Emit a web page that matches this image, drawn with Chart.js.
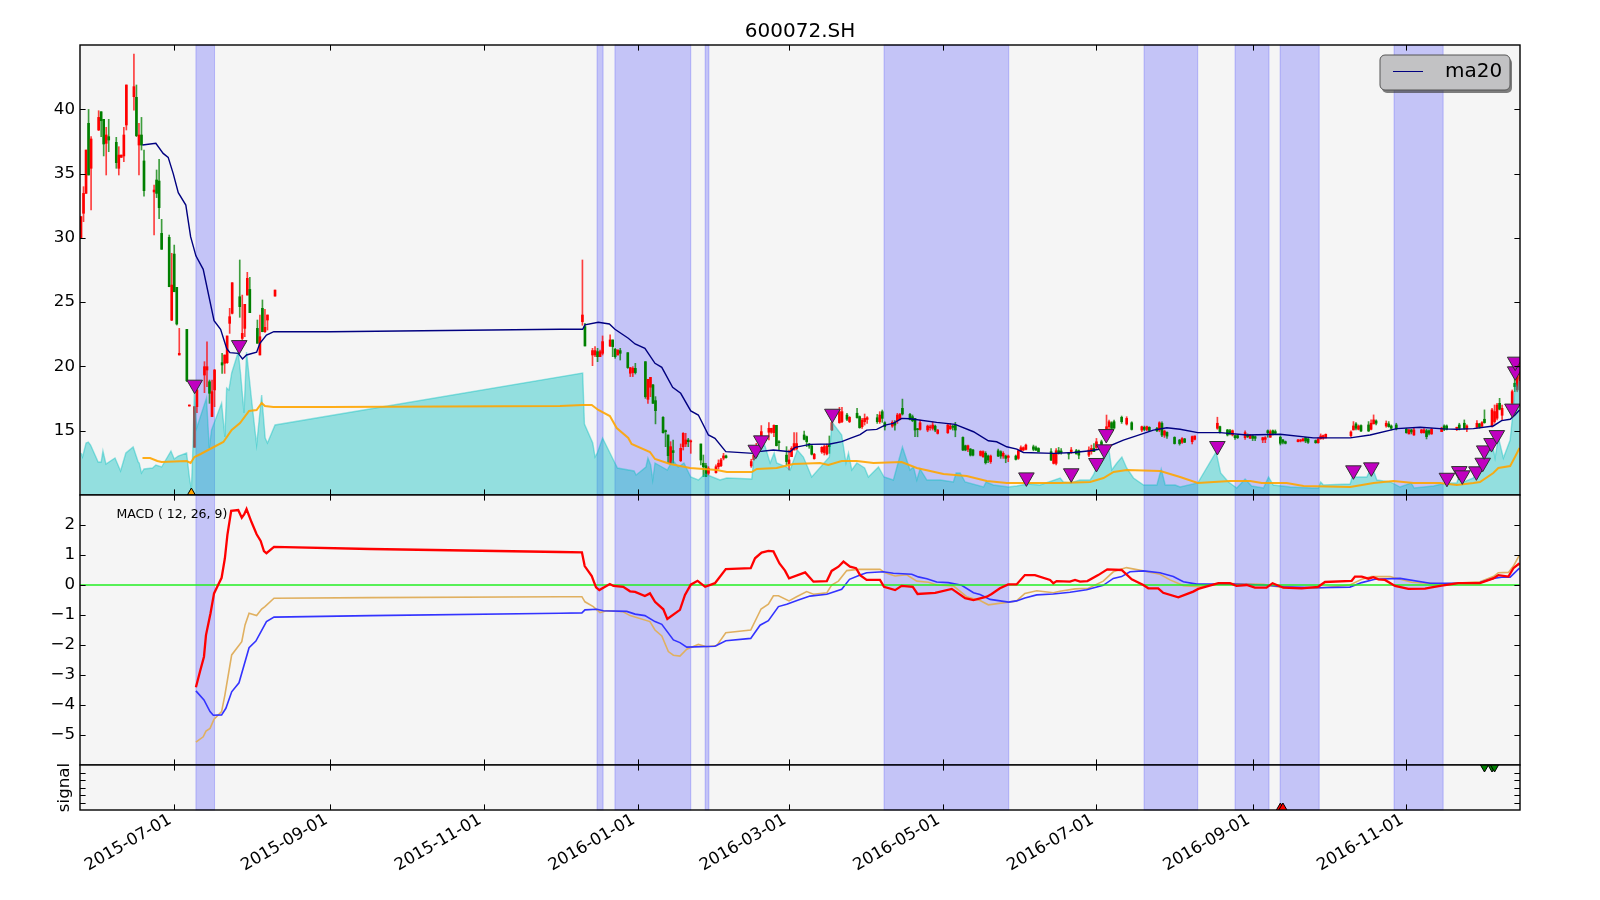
<!DOCTYPE html>
<html>
<head>
<meta charset="utf-8">
<title>600072.SH</title>
<script src="https://cdn.jsdelivr.net/npm/chart.js@4/dist/chart.umd.min.js"></script>
<style>
    body { margin: 0; background: #fff; }
    canvas { position: absolute; left: 0; top: 0; }
</style>
</head>
<body>
<canvas id="priceChart" width="1600" height="900"></canvas>
<canvas id="macdChart" width="1600" height="900"></canvas>
<canvas id="signalChart" width="1600" height="900"></canvas>
<script>
// all x values are days counted from 2015-07-01
var tickDays = [0, 62, 123, 184, 244, 305, 366, 428, 489];
var tickLabels = ['2015-07-01', '2015-09-01', '2015-11-01', '2016-01-01', '2016-03-01', '2016-05-01', '2016-07-01', '2016-09-01', '2016-11-01'];
var xMin = -37.4;
var xMax = 534.1;

// ── Candles ───────────────────────────────────────────────────────────────
var candleDays = [
    -37, -36, -35, -34, -33, -30, -29, -28, -27, -26,
    -23, -22, -21, -20, -19, -16, -15, -14, -13, -12,
    -8, -7, -6, -5, -2, -1, 0, 1, 2, 5,
    6, 8, 9, 12, 13, 14, 15, 16, 19, 20,
    21, 22, 23, 26, 27, 28, 29, 30, 33, 34,
    35, 36, 37, 40,
    162, 163, 166, 167, 168, 169, 170, 173, 174, 175,
    176, 177, 180, 181, 182, 183, 187, 188, 189, 190,
    191, 194, 195, 196, 197, 198, 201, 202, 203, 204,
    205, 209, 210, 211, 212, 215, 216, 217, 218, 219,
    229, 230, 231, 233, 236, 237, 238, 239, 240, 243,
    244, 245, 246, 247, 250, 251, 252, 253, 254, 257,
    258, 259, 260, 261, 264, 265, 267, 268, 271, 272,
    273, 274, 275, 279, 280, 281, 282, 285, 286, 287,
    288, 289, 292, 293, 294, 295, 296, 299, 300, 301,
    302, 303, 307, 308, 309, 310, 313, 314, 315, 316,
    317, 320, 321, 322, 323, 324, 327, 328, 329, 330,
    331, 334, 335, 336, 337, 338, 341, 342, 343, 348,
    349, 350, 351, 352, 355, 356, 358, 359, 363, 364,
    365, 366, 368, 370, 371, 372, 373, 376, 378, 380,
    384, 385, 386, 387, 390, 391, 392, 393, 394, 397,
    399, 400, 401, 404, 405, 414, 415, 418, 419, 420,
    421, 422, 425, 426, 427, 428, 429, 432, 433, 434,
    435, 436, 437, 439, 440, 441, 446, 447, 448, 449,
    450, 453, 454, 455, 456, 457, 467, 468, 469, 470,
    471, 474, 475, 476, 477, 481, 482, 483, 485, 489,
    490, 491, 492, 495, 496, 497, 498, 499, 503, 504,
    505, 509, 510, 512, 513, 517, 518, 519, 520, 523,
    524, 525, 526, 527, 531, 532, 533, 534
];
var candleOpen = [
    29.96, 31.91, 33.46, 38.91, 35.41, 38.39, 39.81, 39.22, 37.35, 37.87,
    37.43, 35.41, 36.26, 36.37, 38.78, 40.98, 40.93, 37.22, 38, 35.98,
    33.57, 34.5, 34.42, 30.35, 30.04, 23.6, 28.74, 26.15, 20.89, 22.88,
    16.92, 13.71, 16.87, 19.33, 19.72, 18.81, 16.1, 18.17, 20.29, 20.24,
    20.29, 23.35, 24.13, 25.42, 22.18, 22.96, 25.55, 25.99, 22.96, 20.89,
    24.52, 22.7, 23.61, 25.47,
    23.48, 23.1, 20.89, 20.89, 21.15, 20.76, 21.02, 21.59, 22.06, 21.33,
    20.89, 21.23, 21.07, 19.47, 19.52, 19.85, 20.37, 17.44, 18.38, 18.56,
    17.34, 16.04, 15.01, 14.67, 12.47, 13.45, 12.67, 13.76, 13.97, 14.28,
    14.13, 13.97, 12.47, 12.28, 11.69, 11.74, 12.2, 12.28, 12.86, 13.04,
    12.26, 12.73, 12.98, 14.41, 14.88, 14.88, 14.85, 15.42, 14.15, 13.1,
    12.34, 12.98, 13.5, 13.6, 14.67, 14.54, 13.97, 13.81, 12.83, 13.35,
    13.3, 13.19, 13.89, 15.06, 15.63, 15.71, 16.22, 15.71, 16.36, 16.1,
    15.31, 15.7, 15.88, 16.01, 15.7, 16.48, 15.62, 15.36, 15.62, 15.78,
    15.88, 16.74, 16.27, 16.09, 15.96, 15.1, 15.1, 15.05, 15.23, 15.18,
    15.36, 14.79, 14.84, 15.15, 15.36, 15.44, 14.48, 13.83, 13.55, 13.57,
    13.5, 13.08, 12.98, 13.24, 13.03, 12.59, 13.44, 13.37, 13.03, 13.03,
    12.92, 13.03, 12.85, 13.42, 13.5, 13.55, 13.75, 13.68, 13.62, 13.37,
    12.46, 12.46, 13.44, 13.42, 13.24, 13.29, 13.44, 13.44, 13.1, 13.37,
    13.62, 13.7, 14.14, 14.84, 15.31, 15.62, 15.7, 16.04, 15.52, 15.62,
    15.05, 15.26, 15.1, 15.26, 15.18, 15.05, 15.57, 14.66, 14.87, 14.48,
    14.27, 14.1, 14.36, 14.15, 14.33, 15.19, 15.32, 15.06, 15, 14.67,
    14.62, 14.62, 14.46, 14.67, 14.41, 14.59, 14.54, 14.28, 14.33, 15,
    14.49, 15, 14.93, 14.49, 14.28, 14.15, 14.15, 14.2, 14.2, 14.46,
    14.36, 14.23, 14.07, 14.38, 14.42, 14.44, 14.62, 15.06, 15.53, 15.11,
    15.4, 15.45, 15.11, 15.53, 15.76, 15.37, 15.53, 15.37, 15.45, 15.11,
    14.75, 15.06, 14.67, 14.85, 14.85, 15, 15, 14.75, 14.93, 15.37,
    15.37, 15.19, 15.45, 15.58, 15.13, 15.27, 15.53, 15.35, 15.89, 15.37,
    15.71, 15.97, 17.13, 16.2, 17.13, 18.69, 18.17, 19
];
var candleHigh = [
    31.65, 33.98, 36.83, 39.99, 37.87, 39.89, 39.81, 39.22, 38.6, 39.22,
    37.82, 37.09, 36.44, 38.6, 41.89, 44.3, 41.89, 38.91, 39.37, 36.83,
    34.11, 35.28, 36.11, 31.44, 30.22, 28.8, 29.44, 26.15, 22.96, 22.88,
    17, 16.87, 18.42, 20.37, 21.92, 18.94, 18.94, 19.77, 21.02, 20.89,
    22.37, 24.52, 26.51, 28.28, 25.55, 24.83, 27.32, 26.93, 23.61, 24,
    25.17, 24.44, 24, 25.94,
    28.28, 23.36, 21.41, 21.54, 21.41, 21.28, 22.37, 22.45, 22.06, 21.41,
    21.28, 21.41, 21.07, 19.91, 19.98, 20.24, 20.37, 19, 19.15, 18.61,
    17.65, 16.1, 15.06, 14.67, 14.15, 14.28, 13.97, 14.85, 14.8, 14.41,
    14.28, 13.97, 13.11, 12.47, 12.2, 12.34, 12.73, 12.86, 13.24, 13.11,
    12.78, 13.19, 14.02, 15.4, 15.63, 15.19, 15.45, 15.42, 14.23, 13.76,
    13.5, 13.76, 14.85, 14.85, 14.98, 14.59, 14.02, 13.89, 13.24, 13.76,
    13.89, 13.97, 14.59, 15.71, 16.82, 16.82, 16.36, 16.1, 16.74, 16.15,
    15.96, 16.3, 16.09, 16.27, 16.48, 16.61, 15.7, 15.78, 15.78, 16.35,
    16.35, 17.46, 16.35, 16.22, 15.96, 15.18, 15.83, 15.44, 15.44, 15.7,
    15.44, 15.1, 15.49, 15.57, 15.44, 15.65, 14.53, 13.88, 13.88, 13.62,
    13.55, 13.44, 13.44, 13.37, 13.11, 13.11, 13.57, 13.44, 13.37, 13.11,
    13.11, 13.11, 13.5, 13.83, 13.75, 13.96, 13.88, 13.81, 13.68, 13.62,
    13.24, 13.62, 13.7, 13.62, 13.32, 13.7, 13.55, 13.5, 13.75, 13.88,
    14, 14.4, 14.27, 16.22, 15.83, 15.7, 15.83, 16.14, 16.09, 15.7,
    15.36, 15.36, 15.36, 15.31, 15.26, 15.7, 15.7, 15.05, 14.92, 14.53,
    14.33, 14.46, 14.41, 14.59, 14.59, 16.05, 15.37, 15.11, 15.11, 15.06,
    14.67, 14.67, 15, 14.75, 14.72, 14.67, 14.59, 14.49, 14.54, 15.06,
    15.06, 15.06, 15.06, 14.59, 14.33, 14.2, 14.33, 14.33, 14.41, 14.49,
    14.41, 14.28, 14.46, 14.75, 14.67, 14.75, 15, 15.71, 15.63, 15.45,
    15.45, 15.71, 15.84, 16.23, 15.84, 15.76, 15.71, 15.45, 15.58, 15.19,
    15.11, 15.11, 15.19, 15.11, 15.16, 15.11, 15.06, 15.19, 15.27, 15.45,
    15.45, 15.27, 15.58, 15.84, 15.45, 15.79, 15.58, 15.71, 16.62, 16.74,
    17, 17.13, 17.52, 17, 18.17, 19.6, 19.34, 20.3
];
var candleLow = [
    29.96, 31.26, 33.46, 34.89, 32.17, 38.34, 37.87, 36.37, 34.89, 36.7,
    35.41, 34.89, 36.26, 35.93, 38.39, 39.94, 37.87, 34.89, 36.83, 33.25,
    30.22, 33.13, 31.49, 29.11, 26.2, 23.56, 25.81, 23.22, 20.89, 18.81,
    16.92, 13.71, 16.4, 17.96, 18.42, 17.13, 16.1, 16.87, 19.46, 19.46,
    20.24, 22.57, 24.08, 23.82, 22.05, 22.31, 25.55, 24.18, 21.8, 20.89,
    22.7, 22.65, 22.83, 25.47,
    23.2, 21.59, 20.06, 20.76, 20.37, 20.76, 20.89, 21.54, 20.76, 20.63,
    20.89, 20.5, 19.85, 19.21, 19.21, 19.41, 17.52, 17.13, 17.65, 17.13,
    15.53, 14.8, 13.76, 12.47, 12.47, 12.47, 12.6, 13.5, 13.76, 13.76,
    13.24, 12.34, 11.43, 11.43, 11.56, 11.69, 12.02, 12.21, 12.73, 12.86,
    12.15, 12.73, 12.98, 14.02, 14.28, 14.8, 14.54, 13.81, 13.5, 12.34,
    11.95, 12.98, 13.5, 13.5, 14.28, 13.76, 13.63, 13.11, 12.78, 13.24,
    13.11, 13.11, 13.24, 15, 15.58, 15.63, 15.78, 15.63, 15.97, 15.19,
    15.18, 15.44, 15.57, 15.57, 15.57, 15.65, 15.05, 15.26, 15.05, 15.57,
    15.83, 16.22, 15.83, 15.7, 14.53, 14.53, 15.05, 14.92, 15.05, 15.05,
    14.92, 14.74, 14.79, 15.1, 15.05, 14.53, 13.44, 13.44, 13.37, 13.03,
    13.03, 13.03, 12.92, 12.41, 12.51, 12.46, 12.98, 12.85, 12.85, 12.51,
    12.59, 12.72, 12.77, 13.37, 13.44, 13.5, 13.44, 13.44, 13.37, 12.67,
    12.41, 12.33, 13.18, 13.18, 12.8, 13.24, 13.18, 12.82, 12.98, 13.18,
    13.37, 13.62, 13.62, 14.79, 14.79, 15.18, 15.18, 15.57, 15.44, 15.05,
    14.92, 15, 15, 15, 14.92, 14.92, 14.53, 14.48, 14.4, 13.96,
    13.88, 14.02, 14.07, 13.97, 14.28, 15.11, 14.8, 14.59, 14.67, 14.59,
    14.33, 14.39, 14.33, 14.46, 14.41, 14.23, 14.23, 14.07, 14.07, 14.49,
    14.49, 14.67, 14.72, 13.89, 13.97, 13.97, 14.13, 14.13, 14.2, 14.07,
    14.02, 14.02, 14.02, 14.33, 14.33, 14.44, 14.54, 15.06, 15.06, 15.06,
    14.93, 14.93, 15.06, 15.53, 15.45, 15.27, 15.27, 15.06, 15.06, 14.8,
    14.75, 14.75, 14.64, 14.8, 14.8, 14.36, 14.67, 14.72, 14.93, 15.01,
    15.06, 15.01, 15.06, 15.11, 14.93, 15.19, 15.19, 15.27, 15.58, 15.27,
    15.58, 15.84, 16.62, 15.84, 17, 18.04, 18.04, 18.9
];
var candleClose = [
    31.65, 33.46, 36.83, 34.89, 37.69, 39.37, 39.11, 37.3, 38, 37.61,
    35.85, 36.44, 36.44, 38, 41.89, 41.76, 37.95, 38, 37.22, 33.67,
    33.72, 33.46, 32.35, 29.11, 26.2, 26.33, 25.81, 23.3, 21.02, 18.88,
    17, 16.87, 18.17, 19.98, 19.98, 17.91, 18.04, 19.72, 20.11, 20.89,
    22.37, 23.87, 26.51, 24.65, 22.57, 24.83, 26.85, 24.18, 21.8, 22.31,
    22.7, 23.04, 24, 25.94,
    24, 21.59, 21.23, 21.23, 20.76, 21.15, 21.93, 22.06, 21.54, 20.76,
    21.28, 21.02, 19.91, 19.91, 19.85, 19.52, 17.65, 19, 19.15, 17.13,
    16.56, 14.85, 14.93, 13.06, 13.76, 13.3, 13.63, 14.8, 14.28, 14.15,
    14.18, 12.72, 12.2, 11.43, 12.08, 12.2, 12.47, 12.73, 13.04, 12.91,
    12.6, 13.11, 13.76, 14.93, 15.19, 15.19, 15.42, 13.84, 14.07, 12.6,
    12.73, 13.63, 14, 14, 14.33, 14.15, 13.81, 13.17, 13.17, 13.71,
    13.76, 13.81, 13.76, 15.63, 16.48, 16.48, 15.89, 16.04, 16.02, 15.24,
    15.83, 15.96, 16.01, 15.7, 16.22, 15.96, 15.31, 15.65, 15.44, 16.22,
    16.27, 16.3, 15.88, 15.78, 15.05, 15.08, 15.62, 15.36, 15.31, 15.44,
    15.05, 15.05, 15.44, 15.36, 15.26, 15.05, 13.5, 13.5, 13.83, 13.1,
    13.1, 13.39, 13.37, 12.51, 12.72, 13.03, 13.03, 13.03, 13.24, 12.85,
    13.03, 12.77, 13.44, 13.68, 13.68, 13.88, 13.55, 13.5, 13.37, 12.72,
    13.18, 13.44, 13.24, 13.29, 13.18, 13.5, 13.2, 13.1, 13.5, 13.62,
    13.37, 14.14, 13.7, 15.31, 15.7, 15.18, 15.2, 15.7, 15.96, 15.1,
    15.31, 15.1, 15.31, 15.02, 15, 15.62, 14.66, 14.97, 14.58, 14,
    14, 14.39, 14.1, 14.54, 14.59, 15.58, 14.93, 14.67, 14.75, 15,
    14.46, 14.46, 14.85, 14.54, 14.67, 14.41, 14.41, 14.46, 14.46, 14.85,
    14.93, 14.78, 14.8, 14.02, 14.1, 14.02, 14.28, 14.28, 14.36, 14.2,
    14.1, 14.07, 14.36, 14.59, 14.62, 14.72, 14.9, 15.37, 15.19, 15.37,
    14.98, 14.98, 15.58, 15.84, 15.58, 15.58, 15.32, 15.19, 15.14, 14.85,
    15.06, 14.9, 15.06, 15.06, 15.06, 14.54, 14.8, 15.11, 15.2, 15.11,
    15.12, 15.27, 15.2, 15.19, 15.37, 15.58, 15.3, 15.63, 15.63, 16.62,
    16.49, 17, 16.67, 16.74, 18.04, 18.43, 19.21, 20.1
];

// ── Volume (own axis of the upper panel) ──────────────────────────────────
var volumeDays = [
    -37, -36.4, -35, -34.1, -33.2, -30.2, -29, -28.3, -27.1, -23.5,
    -21.3, -19.2, -16.3, -14.3, -13.9, -13, -12, -8.6, -7.3, -5,
    -1.3, 0, 1.6, 4.9, 6, 6.8, 7.4, 8, 8.9, 12.8,
    13.9, 14.8, 18.8, 20.1, 20.8, 21.7, 22.8, 25.4, 26.3, 27.7,
    28.7, 30.7, 32.7, 34.7, 36.1, 37, 40,
    162.1, 162.8, 166.1, 167, 167.9, 170, 174.9, 175.9, 182.5, 183.3,
    187.2, 188, 189.1, 189.9, 190.8, 195.7, 197.8, 200, 202.3, 205,
    208, 210.7, 216.6, 219.3, 229.2, 230.1, 231.2, 232.5, 234.1, 236.5,
    238.1, 239.1, 243, 244.4, 247.3, 249.7, 253, 260, 261, 264.9,
    266.6, 267.6, 268.9, 270.9,
    274, 275.5, 279.5, 281.7, 285.4, 289, 290.7, 292, 293.4, 294.7,
    296, 298.7, 304, 309.2, 310.3, 311.9, 313.9, 321.2, 322.2, 325.1,
    331.1, 334.4, 338.4, 343.6, 351.6, 352.9, 355.6, 359.5, 363.5, 364.8,
    366.1, 368.8, 370.8, 372.1, 374.1, 376.1, 378, 380.7, 384.7, 390,
    391.7, 393.3, 397.2,
    399.2, 406.2, 413.5, 415.3, 418.4, 421.7, 425, 427.6, 432.3, 434.3,
    436.2, 442.9, 451.5, 454.1, 455, 456.1, 466.7, 467.5, 473.3, 475.3,
    477.3, 482.6, 486.5, 490.9, 492.1, 499.8, 503.1, 505, 509, 510.1,
    511.7, 515.6, 518.2, 520.9, 522.9, 524.2, 525.5, 527.5, 530.2, 531.5,
    532.3, 533.1, 533.9
];
var volumeValues = [
    4.2, 3.8, 5.2, 5.3, 5, 3.3, 3.3, 4.4, 3.1, 3.7,
    2.4, 4.2, 4.8, 3.3, 3.2, 2.2, 2.6, 2.7, 3, 2.8,
    4.4, 3.6, 3.9, 4.2, 1.8, 0.5, 4.7, 10.5, 6.7, 9.7,
    4.7, 6.5, 9.2, 5.8, 10.7, 10.5, 12.2, 14.3, 12.2, 8.2,
    14.3, 9.5, 5, 10, 5.7, 5.2, 7,
    12.2, 7.1, 5.2, 3.8, 4.2, 5.7, 3.2, 2.7, 2.4, 2,
    2.8, 3.7, 3, 1.5, 3.2, 2.5, 3.5, 2.8, 3.2, 1.8,
    1.5, 2.1, 1.5, 1.7, 1.6, 3.8, 3.8, 4.8, 5.2, 3.2,
    4.2, 3.2, 2.8, 2.5, 4.5, 3.8, 1.8, 3.8, 7.3, 6,
    3.2, 4.2, 2.5, 3.2,
    2.7, 1.8, 2.8, 1.8, 1.5, 4.8, 3.5, 2.5, 2.8, 1.5,
    2.6, 1.5, 1.5, 1.3, 2.2, 2.2, 1.3, 0.8, 1.3, 1,
    0.8, 0.9, 1.1, 1, 1.7, 1.3, 1.2, 1.5, 1.5, 2,
    2.8, 3.8, 4.8, 2.5, 3.2, 3.8, 2.7, 1.7, 1, 1,
    2.6, 1, 1,
    0.8, 1.2, 4.3, 2.2, 1.3, 0.7, 1.6, 0.9, 0.7, 1.8,
    1, 0.8, 0.7, 0.7, 1.3, 1, 1.1, 1.8, 1.8, 2.9,
    1.5, 1.3, 0.8, 1.2, 0.7, 0.9, 1.1, 1.2, 1.2, 2,
    1.3, 1.7, 3.2, 4.5, 5.5, 3.7, 5.8, 3.7, 5.5, 8.8,
    11.2, 10.5, 11.8
];
var volumeMaDays = [
    -12.6, -9.6, -6.7, -5, 4.9, 6.5, 8, 10.5, 14.2, 19.5,
    22.8, 26.1, 29.7, 32.7, 34.7, 36, 39.3, 61.9, 153.1, 162.1,
    165.7, 168.3, 172.9, 175.6, 180.2, 181.5, 188.8, 190.8, 196.8, 204.7,
    215.3, 219.3, 229.2, 231.2, 239.1, 245.7, 256.3, 259.6, 264.9, 270.9,
    277.5, 288.7, 294.7, 305.3, 314.5, 322.5, 330.4, 341, 351.6, 363.5,
    368.8, 372.8, 378, 391.3, 399.2, 406.2, 419, 427, 431.6, 441.5,
    448.2, 466.7, 476, 483.9, 491.8, 502.4, 509, 515.6, 518.2, 523.5,
    525.5, 530.2, 532.1, 533.9
];
var volumeMaValues = [
    3.7, 3.7, 3.4, 3.3, 3.4, 3.2, 3.8, 4.1, 4.6, 5.3,
    6.5, 7.2, 8.4, 8.5, 9.2, 8.9, 8.8, 8.8, 8.9, 9,
    9, 8.5, 7.9, 6.7, 5.7, 5.1, 4.3, 3.6, 3.1, 2.7,
    2.5, 2.3, 2.3, 2.6, 2.7, 3.1, 3.2, 3, 3.4, 3.4,
    3.2, 3.3, 2.7, 2.1, 1.9, 1.4, 1.2, 1.2, 1.2, 1.3,
    1.7, 2.3, 2.5, 2.4, 1.8, 1.2, 1.4, 1.4, 1.2, 1.2,
    0.9, 0.8, 1.2, 1.4, 1.2, 1.2, 1, 1.2, 1.3, 2.2,
    2.7, 2.9, 3.8, 4.7
];

// ── ma20 ──────────────────────────────────────────────────────────────────
var ma20Days = [
    -12.6, -7.3, -4.4, -2.4, -0.4, 1.6, 4.6, 6.5, 8.6, 11.5,
    15.8, 18.4, 20.8, 22.1, 25.4, 27.1, 28.7, 32.7, 34, 36.6,
    39.5, 61.9, 153.1, 162.1, 163, 168.3, 172.7, 174.9, 180.2, 182.9,
    186.8, 190.8, 193.5, 197.8, 201, 205, 208, 212, 214.6, 218.9,
    229.8, 231.8, 237.8, 244.4, 246.4, 252.3, 260.3, 264.9, 268.2, 272.2,
    274.8, 278.8, 282.1, 285.4, 288.7, 292, 302.6, 309.9, 317.2, 323.1,
    326.4, 330.4, 334.4, 337, 349, 356.9, 363.5, 368.8, 376.7, 382.7,
    388.6, 393.9, 399.2, 406.2, 415.1, 425.7, 438.9, 452.1, 466.7, 474.6,
    485.2, 494.5, 503.7, 509, 515.6, 523.5, 526.8, 530.2, 532.1, 533.9
];
var ma20Values = [
    37.22, 37.35, 36.57, 36.26, 35, 33.51, 32.55, 30.09, 28.6, 27.55,
    23.56, 22.88, 21.4, 21.07, 21.02, 20.58, 20.89, 21.1, 21.8, 22.44,
    22.7, 22.7, 22.89, 22.89, 23.23, 23.43, 23.3, 22.89, 22.19, 21.75,
    21.41, 20.24, 19.93, 18.38, 17.91, 16.54, 16.22, 14.67, 14.41, 13.37,
    13.24, 13.37, 13.5, 13.37, 13.71, 13.94, 13.97, 14.15, 14.41, 14.7,
    15.05, 15.1, 15.44, 15.57, 15.96, 15.93, 15.65, 15.49, 14.92, 14.22,
    14.14, 13.75, 13.57, 13.31, 13.24, 13.31, 13.44, 13.62, 14.27, 14.66,
    15.05, 15.23, 15.11, 14.85, 14.85, 14.67, 14.72, 14.44, 14.44, 14.67,
    15.16, 15.27, 15.14, 15.11, 15.16, 15.37, 15.79, 15.89, 16.23, 16.61
];

// ── Markers ───────────────────────────────────────────────────────────────
var flagDays = [
    8.1, 25.8, 230.8, 233, 261.2, 338.2, 356, 366, 369.1, 369.9,
    414, 468, 475.1, 505.1, 510, 511.2, 516.8, 519.3, 519.9, 522.8,
    524.9, 531.1, 532.2, 532.2
];
var flagPrices = [
    18.58, 21.66, 13.52, 14.25, 16.32, 11.37, 11.69, 12.49, 13.55, 14.74,
    13.81, 11.92, 12.15, 11.34, 11.86, 11.53, 11.84, 12.51, 13.47, 14.04,
    14.66, 16.72, 19.62, 20.37
];
var lowFlagDays = [6.8];
var lowFlagPrices = [10];

// shaded periods: start and end of each one
var spanStarts = [8.6, 167.8, 174.9, 210.7, 281.7, 384.9, 421, 438.9, 484.1];
var spanEnds = [16, 170.2, 205, 212.2, 331.2, 406.2, 434.5, 454.4, 503.6];

// ── MACD panel ────────────────────────────────────────────────────────────
var macdRedDays = [
    8.6, 10.2, 11.8, 12.6, 14.4, 15.8, 17.5, 18.8, 20.1, 21.1,
    22.6, 25.4, 26.8, 27.8, 28.7, 30.7, 32.7, 34.3, 35.6, 36.6,
    39.6, 77.7, 153.1, 161.8, 162.9, 165.7, 167.4, 168.7, 170.3, 172.9,
    174.3, 178.2, 180.9, 182.9, 186.8, 188.8, 190.8, 194.1, 195.7, 200.7,
    202.7, 205, 207.7, 210.7, 214.6, 218.9, 228.8, 230.5, 233.1, 235.8,
    237.8, 240.2, 242.4, 244, 250.4, 253.7, 259, 260.9, 263.6, 265.6,
    268.2, 270.6, 272.2, 274.8, 280.1, 281.7, 286.1, 288.7, 293.1, 295,
    302, 308.6, 313.9, 317.2, 322.5, 324.4, 327.7, 331, 334.3, 337.6,
    341.6, 347.6, 348.9, 350.2, 355.5, 357.5, 359.5, 362.4, 366.7, 370.3,
    376, 380, 384.6, 386.6, 390.5, 392.5, 398.5, 404.4, 406.4, 414.4,
    419, 421.6, 425.6, 428.9, 433.5, 435.9, 440.2, 447.4, 454, 456.7,
    467.3, 468.6, 471.3, 473.9, 475.9, 477.9, 480.5, 484.5, 489.8, 496.4,
    499, 503, 509.6, 518.2, 523.5, 525.5, 529.5, 531.5, 533.5, 533.9
];
var macdRedValues = [
    -3.41, -2.89, -2.39, -1.67, -0.94, -0.28, 0.02, 0.24, 0.89, 1.67,
    2.47, 2.5, 2.24, 2.36, 2.53, 2.09, 1.69, 1.47, 1.13, 1.06,
    1.27, 1.2, 1.1, 1.09, 0.63, 0.3, -0.08, -0.17, -0.09, 0.03,
    -0.03, -0.06, -0.21, -0.23, -0.37, -0.28, -0.56, -0.81, -1.13, -0.83,
    -0.33, 0.01, 0.14, -0.06, 0.06, 0.53, 0.56, 0.89, 1.08, 1.14,
    1.12, 0.72, 0.48, 0.22, 0.42, 0.11, 0.13, 0.47, 0.61, 0.78,
    0.61, 0.56, 0.33, 0.17, 0.17, -0.06, -0.17, -0.03, -0.06, -0.3,
    -0.26, -0.13, -0.44, -0.5, -0.39, -0.3, -0.11, 0.02, 0.02, 0.33,
    0.33, 0.17, 0.06, 0.13, 0.11, 0.17, 0.11, 0.13, 0.33, 0.52,
    0.5, 0.19, 0, -0.11, -0.11, -0.26, -0.41, -0.22, -0.13, 0.06,
    0.06, -0.03, 0, -0.09, -0.09, 0.06, -0.09, -0.11, -0.06, 0.1,
    0.14, 0.28, 0.28, 0.21, 0.26, 0.19, 0.17, -0.03, -0.13, -0.12,
    -0.08, -0.02, 0.06, 0.06, 0.22, 0.33, 0.28, 0.56, 0.7, 0.67
];
var macdBlueDays = [
    8.6, 11.8, 14.2, 15.5, 18.8, 20.5, 22.8, 25.7, 29.7, 32.4,
    36.6, 39.6, 77.7, 153.1, 161.8, 163, 167.7, 170.3, 179.6, 182.9,
    186.8, 190.8, 193.5, 198.1, 200.7, 203.4, 214.6, 218.9, 228.8, 232.5,
    235.8, 239.8, 243.1, 247.7, 252.3, 259, 264.9, 268, 272.2, 274.8,
    281.4, 285.4, 292.7, 295.3, 298.7, 302.6, 307.2, 312.5, 317.2, 319.8,
    323.8, 331.1, 334.3, 337.6, 342.3, 348.9, 355.5, 362.1, 368.7, 372.7,
    376, 379.3, 384.6, 391.2, 396.5, 400.5, 405.8, 420.3, 432.2, 440.2,
    453.4, 466.6, 471.3, 476.5, 486.5, 498.4, 510.3, 518.2, 523.5, 526.8,
    530.2, 533.9
];
var macdBlueValues = [
    -3.53, -3.83, -4.22, -4.34, -4.33, -4.11, -3.56, -3.26, -2.09, -1.87,
    -1.22, -1.07, -1.02, -0.94, -0.93, -0.83, -0.81, -0.86, -0.88, -0.97,
    -1.02, -1.22, -1.31, -1.83, -1.92, -2.07, -2.04, -1.86, -1.78, -1.34,
    -1.19, -0.72, -0.64, -0.5, -0.37, -0.31, -0.14, 0.19, 0.33, 0.41,
    0.44, 0.39, 0.36, 0.27, 0.21, 0.1, 0.08, -0.01, -0.26, -0.32,
    -0.48, -0.57, -0.53, -0.43, -0.33, -0.3, -0.24, -0.16, -0.01, 0.22,
    0.28, 0.44, 0.47, 0.41, 0.28, 0.11, 0.03, 0.03, 0, -0.06,
    -0.09, -0.07, 0.08, 0.19, 0.22, 0.06, 0.06, 0.08, 0.22, 0.26,
    0.26, 0.56
];
var macdTanDays = [
    8.6, 11.5, 12.6, 14.2, 15.8, 18.8, 20.1, 22.8, 26.8, 28.1,
    29.7, 32.7, 34.7, 36, 39.6, 77.7, 153.1, 161.8, 163, 166.3,
    169, 171.6, 178.2, 180.9, 188.8, 190.8, 193.5, 196.1, 198.1, 200.7,
    203.4, 208, 211.3, 215.3, 218.9, 228.8, 232.9, 235.8, 237.8, 239.8,
    244, 247, 251, 253.7, 259, 260.9, 263.6, 266.9, 271.5, 280.1,
    282.1, 286.1, 290.7, 294.7, 299.3, 302.6, 309.2, 314.5, 319.8, 323.1,
    331.1, 334.3, 337.6, 342.3, 348.9, 351.5, 357.5, 362.8, 368.7, 372.7,
    377.9, 384.6, 391.2, 395.2, 400.5, 407.1, 415, 432.2, 440.2, 453.4,
    466.6, 471.3, 475.2, 482.5, 491.1, 503, 512.9, 518.2, 523.5, 525.5,
    529.5, 531.5, 533.5, 533.9
];
var macdTanValues = [
    -5.24, -5.06, -4.87, -4.78, -4.47, -4.22, -3.67, -2.33, -1.89, -1.33,
    -0.94, -1.02, -0.8, -0.72, -0.44, -0.42, -0.39, -0.39, -0.56, -0.72,
    -0.92, -0.86, -0.89, -1.02, -1.22, -1.5, -1.7, -2.22, -2.34, -2.37,
    -2.14, -1.98, -2.06, -2.02, -1.59, -1.5, -0.8, -0.64, -0.36, -0.36,
    -0.53, -0.39, -0.22, -0.31, -0.26, 0, 0.13, 0.48, 0.52, 0.52,
    0.41, 0.3, 0.34, 0.13, 0.09, 0, -0.03, -0.39, -0.52, -0.66,
    -0.57, -0.53, -0.28, -0.19, -0.26, -0.21, -0.13, -0.11, 0.13, 0.44,
    0.58, 0.47, 0.36, 0.17, -0.02, -0.06, 0.06, 0.02, -0.09, -0.11,
    0, 0.19, 0.28, 0.28, 0.09, 0.03, 0.08, 0.11, 0.28, 0.41,
    0.42, 0.63, 0.94, 0.97
];

// ── Signal panel ──────────────────────────────────────────────────────────
var buySignalDays = [439, 440];
var sellSignalDays = [520, 523, 524];

// ── Helpers ───────────────────────────────────────────────────────────────
function pairs(xs, ys) {
    return xs.map(function (x, i) { return { x: x, y: ys[i] }; });
}

function lineSet(label, xs, ys, color, width, order, axis) {
    return {
        type: 'line', label: label, data: pairs(xs, ys), borderColor: color, borderWidth: width,
        pointRadius: 0, tension: 0, fill: false, order: order, yAxisID: axis || 'y'
    };
}

function markerSet(label, xs, ys, color, size, rotation, order, edge) {
    return {
        type: 'line', label: label, data: pairs(xs, ys), showLine: false, pointStyle: 'triangle',
        pointRadius: size, pointRotation: rotation, pointBackgroundColor: color, pointBorderColor: edge,
        pointBorderWidth: 1, order: order, yAxisID: 'y'
    };
}

function minusSign(v) {
    return String(v).replace('-', '\u2212');
}

function xAxis(show) {
    return {
        type: 'linear', min: xMin, max: xMax, display: show, offset: false,
        grid: { display: false, drawTicks: false }, border: { display: false },
        afterBuildTicks: function (s) { s.ticks = tickDays.map(function (d) { return { value: d }; }); },
        afterFit: function (s) { if (show) s.height = 90; },
        ticks: {
            autoSkip: false, minRotation: 30, maxRotation: 30, padding: 0, labelOffset: -4,
            font: { size: 16.67 },
            callback: function (v) { return tickLabels[tickDays.indexOf(v)]; }
        }
    };
}

function yAxis(min, max, step, showLabels, titleText) {
    var axis = {
        position: 'left', min: min, max: max,
        grid: { display: false, drawTicks: false }, border: { display: false },
        afterFit: function (s) { s.width = 80; },
        ticks: {
            stepSize: step, padding: 5, display: showLabels, font: { size: 16.67 }, autoSkip: false,
            callback: function (v) { return (v === min || v === max) ? '' : minusSign(v); }
        }
    };
    if (titleText) {
        axis.title = { display: true, text: titleText, font: { size: 16.67 }, padding: { top: 55, bottom: 0 } };
    }
    return axis;
}

// ── Panel furniture: background, shaded periods, inward ticks, frame ──────
var panelPlugin = {
    id: 'panel',
    beforeDatasetsDraw: function (chart) {
        var ctx = chart.ctx, a = chart.chartArea, x = chart.scales.x;
        ctx.save();
        ctx.fillStyle = '#f5f5f5';
        ctx.fillRect(a.left, a.top, a.width, a.height);
        ctx.fillStyle = 'rgba(0,0,255,0.2)';
        ctx.strokeStyle = 'rgba(0,0,255,0.2)';
        ctx.lineWidth = 1;
        spanStarts.forEach(function (start, i) {
            var x0 = x.getPixelForValue(start), x1 = x.getPixelForValue(spanEnds[i]);
            ctx.fillRect(x0, a.top, x1 - x0, a.height);
            ctx.strokeRect(x0, a.top, x1 - x0, a.height);
        });
        ctx.restore();
    },
    afterDatasetsDraw: function (chart) {
        var ctx = chart.ctx, a = chart.chartArea, x = chart.scales.x, y = chart.scales.y;
        var len = 5.6;
        ctx.save();
        ctx.strokeStyle = '#000';
        ctx.lineWidth = 1;
        ctx.beginPath();
        tickDays.forEach(function (d) {
            var px = Math.round(x.getPixelForValue(d)) + 0.5;
            ctx.moveTo(px, a.top); ctx.lineTo(px, a.top + len);
            ctx.moveTo(px, a.bottom); ctx.lineTo(px, a.bottom - len);
        });
        y.ticks.forEach(function (t) {
            if (t.value === y.min || t.value === y.max) return;
            var py = Math.round(y.getPixelForValue(t.value)) + 0.5;
            ctx.moveTo(a.left, py); ctx.lineTo(a.left + len, py);
            ctx.moveTo(a.right, py); ctx.lineTo(a.right - len, py);
        });
        ctx.stroke();
        ctx.lineWidth = 1.4;
        ctx.strokeRect(a.left, a.top, a.width, a.height);
        ctx.restore();
    }
};

// hand-drawn legend box, the stock one has no background or shadow
var maLegendPlugin = {
    id: 'maLegend',
    afterDatasetsDraw: function (chart) {
        var ctx = chart.ctx;
        function box() {
            ctx.beginPath();
            ctx.roundRect(1380, 55, 130, 35, 5);
        }
        ctx.save();
        ctx.translate(2, 3);
        box();
        ctx.fillStyle = 'rgba(60,60,60,0.65)';
        ctx.fill();
        ctx.translate(-2, -3);
        box();
        ctx.fillStyle = '#f5f5f5';
        ctx.fill();
        ctx.fillStyle = 'rgba(185,185,187,0.85)';
        ctx.fill();
        ctx.strokeStyle = '#555';
        ctx.lineWidth = 1;
        ctx.stroke();
        ctx.beginPath();
        ctx.moveTo(1393, 71.5);
        ctx.lineTo(1423, 71.5);
        ctx.strokeStyle = '#000080';
        ctx.stroke();
        ctx.fillStyle = '#000';
        ctx.font = '20px "DejaVu Sans"';
        ctx.textBaseline = 'middle';
        ctx.fillText('ma20', 1445, 72);
        ctx.restore();
    }
};

var macdNotePlugin = {
    id: 'macdNote',
    afterDatasetsDraw: function (chart) {
        var ctx = chart.ctx;
        ctx.save();
        ctx.fillStyle = '#000';
        ctx.font = '12.5px "DejaVu Sans"';
        ctx.textBaseline = 'middle';
        ctx.fillText('MACD ( 12, 26, 9)', 116.5, 514.5);
        ctx.restore();
    }
};

// ── Charts ────────────────────────────────────────────────────────────────
Chart.defaults.font.family = '"DejaVu Sans"';
Chart.defaults.color = '#000';
Chart.defaults.animation = false;
Chart.defaults.responsive = false;
Chart.defaults.events = [];
Chart.defaults.plugins.legend.display = false;
Chart.defaults.plugins.tooltip.enabled = false;

var candleColors = candleDays.map(function (d, i) {
    return candleClose[i] >= candleOpen[i] ? '#ff0000' : '#008000';
});
var wickColors = candleColors.map(function (c) {
    return c === '#ff0000' ? 'rgba(255,0,0,0.75)' : 'rgba(0,128,0,0.75)';
});

new Chart(document.getElementById('priceChart').getContext('2d'), {
    type: 'line',
    data: {
        datasets: [
            {
                type: 'bar', label: 'wicks', yAxisID: 'y', grouped: false, barThickness: 1, order: 55,
                data: candleDays.map(function (d, i) { return { x: d, y: [candleLow[i], candleHigh[i]] }; }),
                backgroundColor: wickColors
            },
            {
                type: 'bar', label: 'bodies', yAxisID: 'y', grouped: false, barThickness: 2, minBarLength: 1, order: 50,
                data: candleDays.map(function (d, i) { return { x: d, y: [candleOpen[i], candleClose[i]] }; }),
                backgroundColor: candleColors
            },
            {
                type: 'line', label: 'volume', data: pairs(volumeDays, volumeValues), yAxisID: 'yVol',
                borderColor: 'rgba(0,191,191,0.4)', backgroundColor: 'rgba(0,191,191,0.4)', borderWidth: 1.4,
                pointRadius: 0, tension: 0, fill: 'origin', order: 40
            },
            lineSet('volume ma', volumeMaDays, volumeMaValues, 'rgba(255,165,0,0.9)', 2, 25, 'yVol'),
            lineSet('ma20', ma20Days, ma20Values, '#000080', 1.4, 20),
            markerSet('flags', flagDays, flagPrices, '#c000c0', 9, 180, 10, '#303030'),
            markerSet('low flags', lowFlagDays, lowFlagPrices, '#ffa500', 7, 0, 10, '#000')
        ]
    },
    options: {
        layout: { autoPadding: false, padding: { top: 0, bottom: 405, left: 0, right: 80 } },
        plugins: {
            title: {
                display: true, text: '600072.SH', fullSize: false, color: '#000',
                font: { size: 20, weight: 'normal', lineHeight: 1.2 }, padding: { top: 19.6, bottom: 1.4 }
            }
        },
        scales: {
            x: xAxis(false),
            y: yAxis(10, 45, 5, true),
            yVol: { display: false, position: 'right', min: 0, max: 45 }
        }
    },
    plugins: [panelPlugin, maLegendPlugin]
});

new Chart(document.getElementById('macdChart').getContext('2d'), {
    type: 'line',
    data: {
        datasets: [
            lineSet('signal', macdTanDays, macdTanValues, '#e0b060', 1.6, 25),
            lineSet('dea', macdBlueDays, macdBlueValues, '#3333ff', 1.6, 20),
            lineSet('zero', [xMin, xMax], [0, 0], '#22ee22', 1.6, 15),
            lineSet('dif', macdRedDays, macdRedValues, '#ff0000', 2.3, 10)
        ]
    },
    options: {
        layout: { autoPadding: false, padding: { top: 495, bottom: 135, left: 0, right: 80 } },
        scales: { x: xAxis(false), y: yAxis(-6, 3, 1, true) }
    },
    plugins: [panelPlugin, macdNotePlugin]
});

new Chart(document.getElementById('signalChart').getContext('2d'), {
    type: 'line',
    data: {
        datasets: [
            markerSet('buy', buySignalDays, buySignalDays.map(function () { return -3; }), '#ff0000', 7, 0, 10, '#000'),
            markerSet('sell', sellSignalDays, sellSignalDays.map(function () { return 3; }), '#008000', 7, 180, 10, '#000')
        ]
    },
    options: {
        layout: { autoPadding: false, padding: { top: 765, bottom: 0, left: 0, right: 80 } },
        scales: { x: xAxis(true), y: yAxis(-3, 3, 1, false, 'signal') }
    },
    plugins: [panelPlugin]
});
</script>
</body>
</html>
